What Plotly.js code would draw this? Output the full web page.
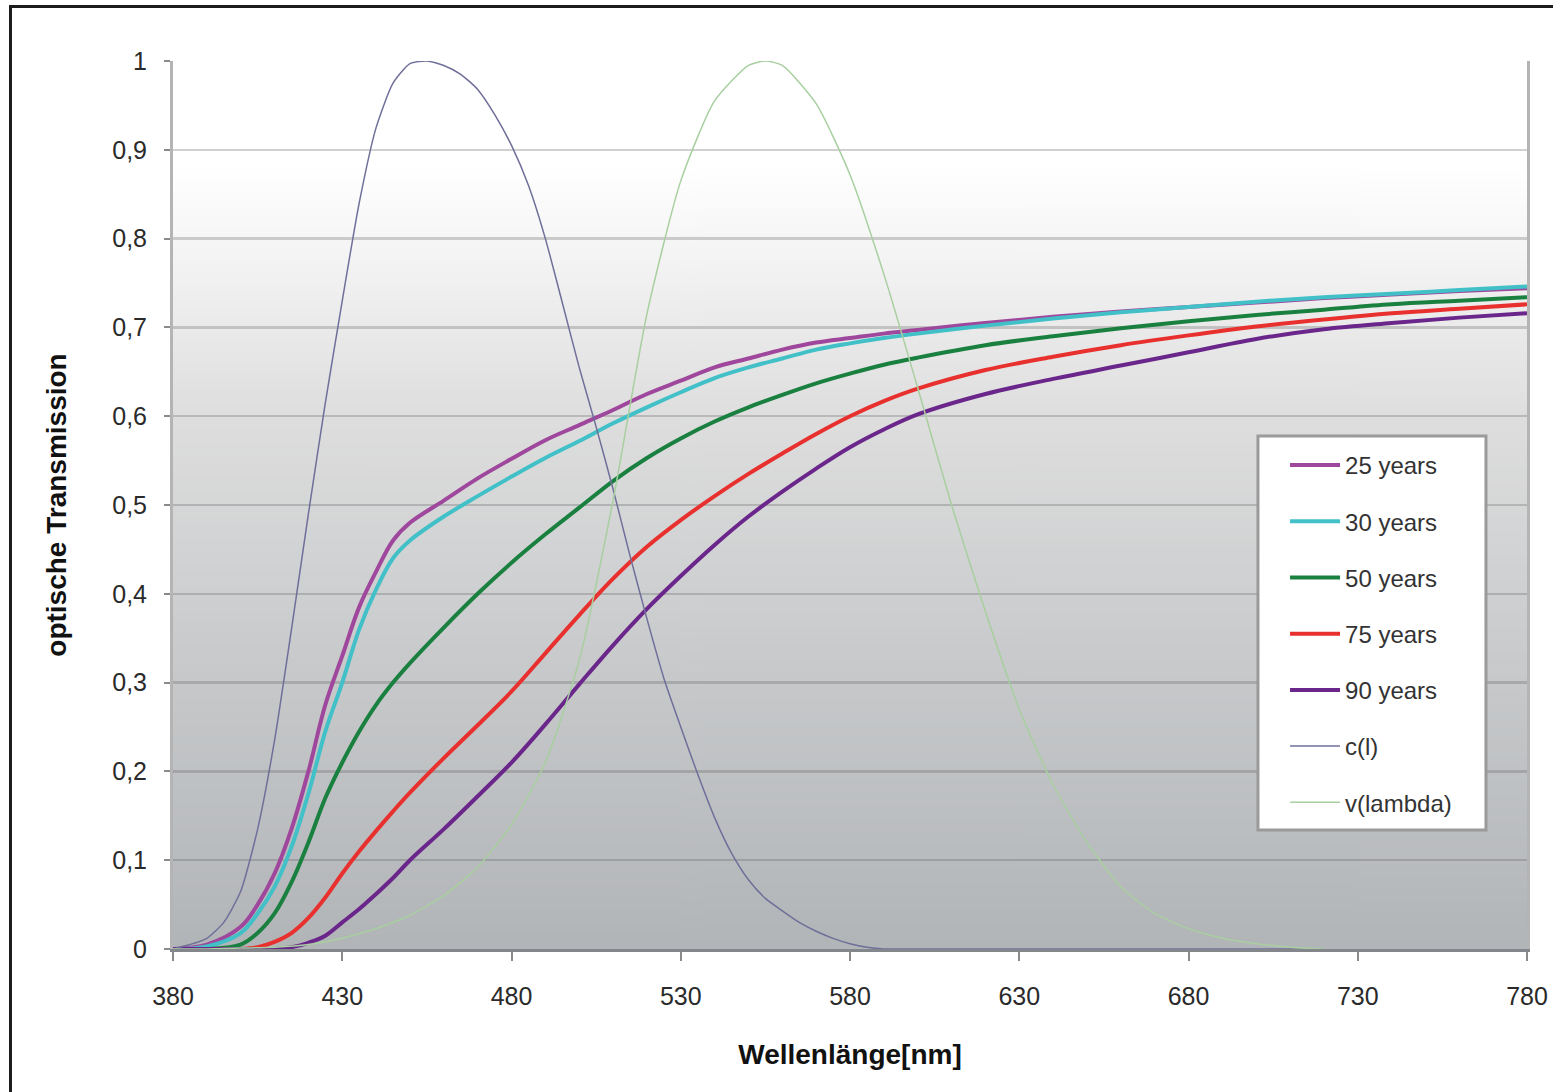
<!DOCTYPE html>
<html>
<head>
<meta charset="utf-8">
<script src="https://cdn.plot.ly/plotly-3.0.1.min.js"></script>
<style>
  html, body { margin: 0; padding: 0; background: #ffffff; overflow: hidden; }
  #chart { width: 1553px; height: 1092px; }
  #frame { position: absolute; left: 9px; top: 5px; width: 1700px; height: 1300px;
           border: 3px solid #1c1c1c; pointer-events: none; }
</style>
</head>
<body>
<div id="chart"></div>
<div id="frame"></div>
<script>
// wavelengths (nm) for the age curves
const wl = [380,390,400,405,410,415,420,425,430,435,440,445,450,460,470,480,490,500,510,520,530,540,550,560,570,580,590,600,620,640,660,680,700,720,740,760,780];

const years25 = [0,0.005,0.025,0.05,0.085,0.135,0.2,0.275,0.33,0.385,0.425,0.46,0.48,0.505,0.53,0.552,0.573,0.59,0.607,0.625,0.64,0.655,0.665,0.675,0.683,0.688,0.693,0.697,0.705,0.712,0.718,0.723,0.728,0.733,0.737,0.741,0.744];
const years30 = [0,0.003,0.018,0.04,0.07,0.115,0.175,0.245,0.3,0.36,0.405,0.44,0.46,0.487,0.51,0.532,0.553,0.572,0.592,0.61,0.627,0.643,0.655,0.665,0.675,0.682,0.688,0.693,0.702,0.71,0.717,0.723,0.729,0.734,0.738,0.742,0.746];
const years50 = [0,0,0.005,0.018,0.04,0.075,0.12,0.17,0.21,0.245,0.275,0.3,0.322,0.362,0.4,0.435,0.467,0.497,0.527,0.553,0.575,0.594,0.61,0.624,0.637,0.648,0.658,0.666,0.68,0.69,0.699,0.707,0.714,0.72,0.726,0.73,0.734];
const years75 = [0,0,0,0.002,0.008,0.018,0.035,0.058,0.085,0.11,0.133,0.155,0.176,0.215,0.252,0.29,0.333,0.376,0.417,0.453,0.483,0.51,0.535,0.558,0.58,0.6,0.617,0.631,0.652,0.667,0.68,0.691,0.701,0.709,0.716,0.721,0.726];
const years90 = [0,0,0,0,0,0.002,0.007,0.015,0.03,0.045,0.062,0.08,0.1,0.135,0.172,0.21,0.253,0.298,0.342,0.383,0.42,0.455,0.487,0.515,0.541,0.565,0.585,0.602,0.625,0.642,0.657,0.672,0.687,0.698,0.705,0.711,0.716];

// c(l) curve
const wlC = [380,385,390,395,400,405,410,415,420,425,430,435,440,445,450,455,460,465,470,475,480,485,490,495,500,505,510,515,520,525,530,535,540,545,550,555,560,565,570,575,580,585,590,600,650,700,720];
const cL  = [0,0.005,0.012,0.03,0.065,0.135,0.235,0.36,0.49,0.615,0.73,0.84,0.925,0.975,0.997,1.0,0.995,0.985,0.968,0.94,0.905,0.86,0.8,0.728,0.655,0.588,0.518,0.443,0.372,0.305,0.25,0.197,0.148,0.108,0.078,0.057,0.043,0.03,0.02,0.012,0.006,0.002,0,0,0,0,0];

// v(lambda) curve
const wlV = [380,390,400,410,420,430,440,450,460,470,480,490,500,510,520,530,540,550,555,560,570,580,590,600,610,620,630,640,650,660,670,680,690,700,710,720];
const vL  = [0,0,0.001,0.002,0.005,0.012,0.023,0.038,0.06,0.092,0.14,0.21,0.325,0.505,0.715,0.865,0.955,0.995,1.0,0.995,0.952,0.872,0.76,0.632,0.5,0.38,0.27,0.185,0.12,0.07,0.04,0.023,0.012,0.006,0.002,0];

const seriesNames = ['25 years','30 years','50 years','75 years','90 years','c(l)','v(lambda)'];
const xTicks = [380,430,480,530,580,630,680,730,780];
const yTicks = [0,0.1,0.2,0.3,0.4,0.5,0.6,0.7,0.8,0.9,1];

const FONT = 'Liberation Sans, Arial, sans-serif';

function ageTrace(name, y, color) {
  return { x: wl, y: y, name: name, type: 'scatter', mode: 'lines',
           line: { color: color, width: 4, shape: 'spline', smoothing: 1 },
           legendgroup: name, hoverinfo: 'skip' };
}

const traces = [
  ageTrace(seriesNames[0], years25, '#9e479c'),
  ageTrace(seriesNames[1], years30, '#42c0c8'),
  ageTrace(seriesNames[2], years50, '#1a8040'),
  ageTrace(seriesNames[3], years75, '#e8312e'),
  ageTrace(seriesNames[4], years90, '#6a268a'),
  { x: wlC, y: cL, name: seriesNames[5], type: 'scatter', mode: 'lines',
    line: { color: '#6f6f9a', width: 1.5, shape: 'spline', smoothing: 0.6 },
    legendgroup: seriesNames[5], hoverinfo: 'skip' },
  { x: wlV, y: vL, name: seriesNames[6], type: 'scatter', mode: 'lines',
    line: { color: '#a8cfa0', width: 1.5, shape: 'spline', smoothing: 0.6 },
    legendgroup: seriesNames[6], hoverinfo: 'skip' }
];

// background gradient as an image
const cv = document.createElement('canvas');
cv.width = 4; cv.height = 512;
const ctx = cv.getContext('2d');
const g = ctx.createLinearGradient(0, 0, 0, 512);
g.addColorStop(0, '#ffffff');
g.addColorStop(0.12, '#ffffff');
g.addColorStop(0.22, '#f4f4f4');
g.addColorStop(0.4, '#dedede');
g.addColorStop(0.7, '#c6c8ca');
g.addColorStop(1, '#b2b5b8');
ctx.fillStyle = g;
ctx.fillRect(0, 0, 4, 512);
const bgURL = cv.toDataURL('image/png');

const layout = {
  width: 1553, height: 1092,
  margin: { l: 173, r: 26, t: 61, b: 143 },
  paper_bgcolor: '#ffffff',
  plot_bgcolor: 'rgba(0,0,0,0)',
  separators: ',.',
  font: { family: FONT, color: '#222222', size: 25 },
  showlegend: true,
  images: [{ source: bgURL, xref: 'paper', yref: 'paper', x: 0, y: 1, sizex: 1, sizey: 1,
             xanchor: 'left', yanchor: 'top', sizing: 'stretch', layer: 'below' }],
  shapes: [{ type: 'rect', xref: 'paper', yref: 'paper', layer: 'above',
             x0: 0.8013, x1: 0.9697, y0: 0.134, y1: 0.5777,
             fillcolor: '#ffffff', line: { color: '#9a9a9a', width: 3 } }],
  xaxis: {
    range: [380, 780], tickvals: xTicks, ticktext: xTicks.map(String),
    showgrid: false, zeroline: false,
    showline: true, linecolor: '#83878c', linewidth: 3,
    ticks: 'outside', ticklen: 9, tickwidth: 2, tickcolor: '#8a8a8a',
    ticklabelstandoff: 14,
    tickfont: { family: FONT, size: 25, color: '#2a2a2a' },
    title: { text: 'Wellenlänge[nm]', standoff: 36,
             font: { family: FONT, size: 28, color: '#111111', weight: 'bold' } }
  },
  yaxis: {
    range: [0, 1], tickvals: yTicks,
    showgrid: true, gridcolor: 'rgba(90,90,90,0.28)', gridwidth: 2.5,
    zeroline: false,
    showline: true, linecolor: '#b4b4b4', linewidth: 3, mirror: true,
    ticks: 'outside', ticklen: 6, tickwidth: 2, tickcolor: '#8a8a8a',
    ticklabelstandoff: 12,
    tickfont: { family: FONT, size: 25, color: '#2a2a2a' },
    title: { text: 'optische Transmission', standoff: 38,
             font: { family: FONT, size: 28, color: '#111111', weight: 'bold' } }
  },
  legend: {
    x: 0.8213, y: 0.5698, xanchor: 'left', yanchor: 'top',
    bgcolor: 'rgba(0,0,0,0)', borderwidth: 0,
    font: { family: FONT, size: 24, color: '#333333' },
    traceorder: 'grouped', tracegroupgap: 22, itemwidth: 50
  }
};

Plotly.newPlot('chart', traces, layout, { staticPlot: true, displayModeBar: false });
</script>
</body>
</html>
